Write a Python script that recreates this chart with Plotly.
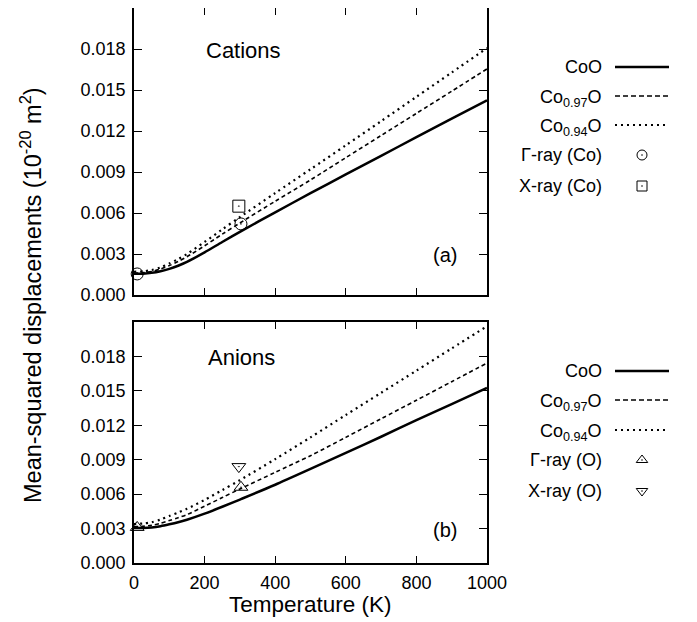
import plotly.graph_objects as go

# ---------------- data ----------------
temperature = [0, 25, 50, 75, 100, 125, 150, 200, 250, 300, 400, 500, 600, 700, 800, 900, 1000]

cation_CoO   = [0.00155, 0.00156, 0.00162, 0.00174, 0.00191, 0.00214, 0.00242, 0.00312, 0.00388, 0.00462, 0.00605, 0.00745, 0.00882, 0.01018, 0.01155, 0.01290, 0.01425]
cation_Co097 = [0.00160, 0.00163, 0.00172, 0.00190, 0.00215, 0.00245, 0.00280, 0.00360, 0.00445, 0.00527, 0.00686, 0.00842, 0.01005, 0.01167, 0.01329, 0.01491, 0.01654]
cation_Co094 = [0.00170, 0.00173, 0.00183, 0.00202, 0.00230, 0.00263, 0.00300, 0.00388, 0.00480, 0.00570, 0.00746, 0.00920, 0.01095, 0.01272, 0.01450, 0.01628, 0.01807]

anion_CoO   = [0.00304, 0.00305, 0.00310, 0.00321, 0.00337, 0.00355, 0.00377, 0.00430, 0.00490, 0.00553, 0.00682, 0.00820, 0.00960, 0.01100, 0.01245, 0.01385, 0.01525]
anion_Co097 = [0.00318, 0.00320, 0.00328, 0.00345, 0.00370, 0.00395, 0.00422, 0.00495, 0.00570, 0.00645, 0.00790, 0.00935, 0.01095, 0.01257, 0.01418, 0.01580, 0.01742]
anion_Co094 = [0.00340, 0.00344, 0.00355, 0.00378, 0.00410, 0.00440, 0.00472, 0.00550, 0.00635, 0.00722, 0.00905, 0.01095, 0.01290, 0.01483, 0.01676, 0.01870, 0.02063]

gamma_Co_T = [9, 303]
gamma_Co_v = [0.00154, 0.0052]
xray_Co_T = [297]
xray_Co_v = [0.0065]

gamma_O_T = [9, 303]
gamma_O_v = [0.0031, 0.0066]
xray_O_T = [297]
xray_O_v = [0.0084]

x_ticks = [0, 200, 400, 600, 800, 1000]
y_ticks = [0.000, 0.003, 0.006, 0.009, 0.012, 0.015, 0.018]
y_tick_labels = ["0.000", "0.003", "0.006", "0.009", "0.012", "0.015", "0.018"]

legend_top = ["CoO", "Co<sub>0.97</sub>O", "Co<sub>0.94</sub>O", "Γ-ray (Co)", "X-ray (Co)"]
legend_bot = ["CoO", "Co<sub>0.97</sub>O", "Co<sub>0.94</sub>O", "Γ-ray (O)", "X-ray (O)"]

# ---------------- layout constants ----------------
OFF = 8                      # the page body margin shifts the figure by 8 px
W, H = 697 - OFF, 622 - OFF
FONT = "Liberation Sans, Arial, sans-serif"

def px(v):
    return v - OFF

ax_left, ax_right = px(134), px(487)
top_y0, top_y1 = px(8), px(295)
bot_y0, bot_y1 = px(322), px(563)

def fx(p):
    return p / W

def fy(p):
    return 1 - p / H

solid = dict(color="black", width=2.5)
dashed = dict(color="black", width=1.6, dash="4px,3px")
dotted = dict(color="black", width=2.2, dash="2px,4px")

fig = go.Figure()

def add_panel(xa, ya, s1, s2, s3, gT, gv, gsym, xT, xv, xsym):
    for ys, ln in ((s1, solid), (s2, dashed), (s3, dotted)):
        fig.add_trace(go.Scatter(x=temperature, y=ys, mode="lines", line=dict(shape="spline", smoothing=0.8, **ln),
                                 xaxis=xa, yaxis=ya, showlegend=False, hoverinfo="skip", cliponaxis=False))
    fig.add_trace(go.Scatter(x=gT, y=gv, mode="markers",
                             marker=dict(symbol=gsym, size=12, color="black", line=dict(width=1, color="black")),
                             xaxis=xa, yaxis=ya, showlegend=False, cliponaxis=False))
    fig.add_trace(go.Scatter(x=xT, y=xv, mode="markers",
                             marker=dict(symbol=xsym, size=12, color="black", line=dict(width=1, color="black")),
                             xaxis=xa, yaxis=ya, showlegend=False, cliponaxis=False))

add_panel("x", "y", cation_CoO, cation_Co097, cation_Co094, gamma_Co_T, gamma_Co_v, "circle-open-dot",
          xray_Co_T, xray_Co_v, "square-open-dot")
add_panel("x2", "y2", anion_CoO, anion_Co097, anion_Co094, gamma_O_T, gamma_O_v, "triangle-up-open-dot",
          xray_O_T, xray_O_v, "triangle-down-open-dot")

# legend samples in pixel overlay axis
def add_legend(rows_y, labels, gsym, xsym):
    rows_y = [px(r) for r in rows_y]
    styles = [dict(color="black", width=2.5),
              dict(color="black", width=1.5, dash="5px,3px"),
              dict(color="black", width=2.0, dash="2px,4px")]
    for i in range(3):
        fig.add_trace(go.Scatter(x=[px(615), px(669)], y=[rows_y[i], rows_y[i]], mode="lines", line=styles[i],
                                 xaxis="x3", yaxis="y3", showlegend=False, hoverinfo="skip"))
    for i, sym in ((3, gsym), (4, xsym)):
        fig.add_trace(go.Scatter(x=[px(642)], y=[rows_y[i]], mode="markers",
                                 marker=dict(symbol=sym, size=10, color="black", line=dict(width=1, color="black")),
                                 xaxis="x3", yaxis="y3", showlegend=False, hoverinfo="skip"))
    for i, lab in enumerate(labels):
        fig.add_annotation(x=px(604), y=rows_y[i] + (2 if "sub" in lab else 0), xref="x3", yref="y3", text=lab,
                           showarrow=False, xanchor="right", yanchor="middle",
                           font=dict(family=FONT, size=18, color="black"))

add_legend([67, 96, 125, 155, 186], legend_top, "circle-open-dot", "square-open-dot")
add_legend([371, 400, 430, 460, 491], legend_bot, "triangle-up-open-dot", "triangle-down-open-dot")

# text annotations
for txt, x0, y0, sz in (("Cations", 243, 50, 22), ("Anions", 241, 357, 22), ("(a)", 445, 255, 20), ("(b)", 445, 530, 20),
                        ("Temperature (K)", 310, 604, 22.5)):
    fig.add_annotation(x=px(x0), y=px(y0), xref="x3", yref="y3", text=txt, showarrow=False,
                       xanchor="center", yanchor="middle", font=dict(family=FONT, size=sz, color="black"))
fig.add_annotation(x=px(31), y=px(295), xref="x3", yref="y3",
                   text="Mean-squared displacements (10<sup>-20</sup> m<sup>2</sup>)",
                   textangle=-90, showarrow=False, xanchor="center", yanchor="middle",
                   font=dict(family=FONT, size=23.5, color="black"))

axis_common = dict(showgrid=False, zeroline=False, showline=True, linecolor="black", linewidth=1.6, mirror="allticks",
                   ticks="inside", tickcolor="black", tickwidth=1.3, automargin=False,
                   tickfont=dict(family=FONT, size=18, color="black"))

fig.update_layout(
    width=W, height=H,
    margin=dict(l=0, r=0, t=0, b=0),
    paper_bgcolor="white", plot_bgcolor="rgba(0,0,0,0)",
    showlegend=False,
    xaxis=dict(domain=[fx(ax_left), fx(ax_right)], range=[0, 1000], tickvals=x_ticks, showticklabels=False,
               ticklen=7, anchor="y", **axis_common),
    yaxis=dict(domain=[fy(top_y1), fy(top_y0)], range=[0, 0.021], tickvals=y_ticks, ticktext=y_tick_labels,
               ticklen=8, anchor="x", ticklabelstandoff=3, **axis_common),
    xaxis2=dict(domain=[fx(ax_left), fx(ax_right)], range=[0, 1000], tickvals=x_ticks, ticklen=7, anchor="y2",
                ticklabelstandoff=3, **axis_common),
    yaxis2=dict(domain=[fy(bot_y1), fy(bot_y0)], range=[0, 0.021], tickvals=y_ticks, ticktext=y_tick_labels,
                ticklen=8, anchor="x2", ticklabelstandoff=3, **axis_common),
    xaxis3=dict(domain=[0, 1], range=[0, W], visible=False, anchor="y3", fixedrange=True),
    yaxis3=dict(domain=[0, 1], range=[H, 0], visible=False, anchor="x3", fixedrange=True),
)

fig.write_html("out.html")
